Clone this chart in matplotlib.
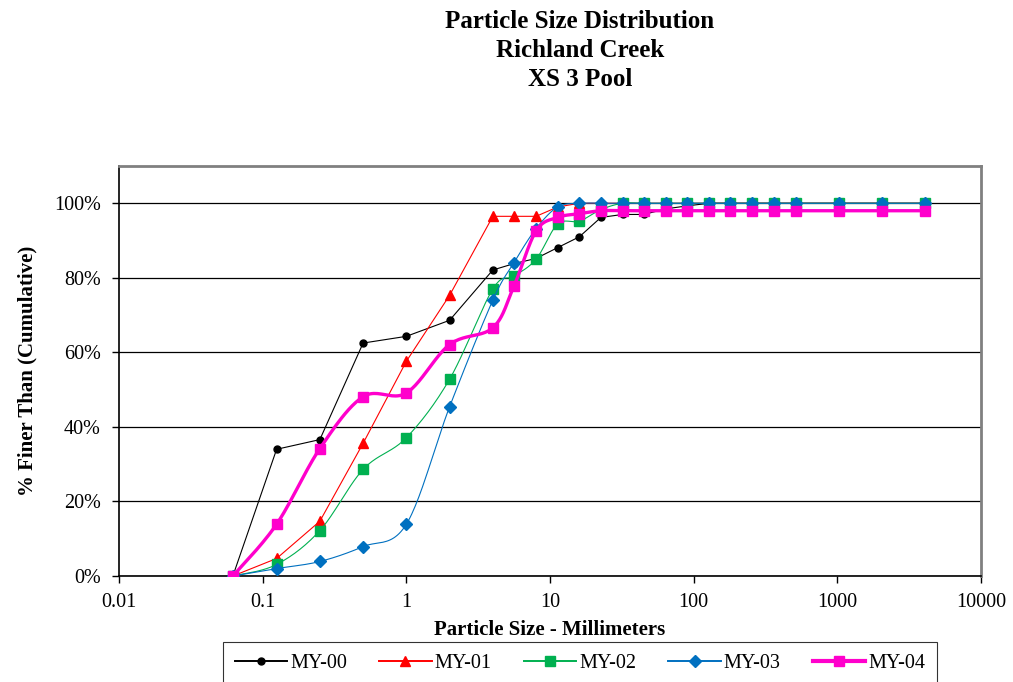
import numpy as np
import matplotlib
matplotlib.use("Agg")
import matplotlib.pyplot as plt
from matplotlib.lines import Line2D
from matplotlib.ticker import FixedLocator, FixedFormatter, FuncFormatter

plt.rcParams['font.family'] = ['Liberation Serif', 'DejaVu Serif']

# sieve sizes (mm)
sizes = [0.062, 0.125, 0.25, 0.5, 1, 2, 4, 5.6, 8, 11.3, 16, 22.6, 32, 45,
         64, 90, 128, 180, 256, 362, 512, 1024, 2048, 4096]

# cumulative % finer
my00 = [0, 34, 36.6, 62.5, 64.3, 68.6, 82.1, 83.8, 85.2, 88.1, 91, 96.2, 97, 97,
        98.5, 99.3, 100, 100, 100, 100, 100, 100, 100, 100]
my01 = [0, 4.7, 14.7, 35.6, 57.6, 75.3, 96.5, 96.5, 96.5, 99, 100, 100, 100, 100,
        100, 100, 100, 100, 100, 100, 100, 100, 100, 100]
my02 = [0, 3.1, 12.2, 28.6, 37.1, 52.8, 77, 80.4, 85, 94.4, 95.2, 98.3, 100, 100,
        100, 100, 100, 100, 100, 100, 100, 100, 100, 100]
my03 = [0, 2, 3.9, 7.9, 13.9, 45.4, 74, 84, 93.2, 99, 100, 100, 100, 100,
        100, 100, 100, 100, 100, 100, 100, 100, 100, 100]
my04 = [0, 13.9, 34.2, 48.1, 49.1, 62.1, 66.6, 77.7, 92.6, 96.2, 97.2, 98, 98, 98,
        98, 98, 98, 98, 98, 98, 98, 98, 98, 98]

series_names = ["MY-00", "MY-01", "MY-02", "MY-03", "MY-04"]
x_ticks = [0.01, 0.1, 1, 10, 100, 1000, 10000]
x_tick_labels = ["0.01", "0.1", "1", "10", "100", "1000", "10000"]


def smooth(x, y, n=25):
    # catmull-rom style bezier through the points, in log-x space (like excel smoothed lines)
    P = np.column_stack([np.log10(x), np.asarray(y, float)])
    out = []
    t = np.linspace(0, 1, n)[:, None]
    for i in range(len(P) - 1):
        p0 = P[i - 1] if i > 0 else P[i]
        p1, p2 = P[i], P[i + 1]
        p3 = P[i + 2] if i + 2 < len(P) else P[i + 1]
        c1 = p1 + (p2 - p0) / 6
        c2 = p2 - (p3 - p1) / 6
        seg = (1 - t)**3 * p1 + 3 * (1 - t)**2 * t * c1 + 3 * (1 - t) * t**2 * c2 + t**3 * p2
        out.append(seg if i == 0 else seg[1:])
    out = np.vstack(out)
    return 10 ** out[:, 0], out[:, 1]


fig = plt.figure(figsize=(10.13, 6.82), dpi=100)
ax = fig.add_axes([0.1175, 0.1554, 0.8509, 0.6012])

styles = [
    dict(color="black", marker="o", ms=5, lw=0.8, smooth=False),
    dict(color="#FF0000", marker="^", ms=7, lw=0.8, smooth=False),
    dict(color="#00B050", marker="s", ms=6.5, lw=0.8, smooth=True),
    dict(color="#0070C0", marker="D", ms=6.5, lw=0.8, smooth=True),
    dict(color="#FF00CC", marker="s", ms=7.5, lw=2.4, smooth=True),
]

handles = []
for name, vals, st in zip(series_names, [my00, my01, my02, my03, my04], styles):
    if st["smooth"]:
        sx, sy = smooth(sizes, vals)
    else:
        sx, sy = sizes, vals
    ax.plot(sx, sy, color=st["color"], lw=st["lw"], zorder=3)
    ax.plot(sizes, vals, ls="none", marker=st["marker"], ms=st["ms"],
            color=st["color"], mec=st["color"], zorder=3)
    handles.append(Line2D([], [], color=st["color"], lw=st["lw"] + 0.6, alpha=1,
                          marker=st["marker"], ms=st["ms"], label=name))

ax.set_xscale("log")
ax.set_xlim(0.01, 10000)
ax.set_ylim(0, 110)
ax.xaxis.set_major_locator(FixedLocator(x_ticks))
ax.xaxis.set_major_formatter(FixedFormatter(x_tick_labels))
ax.xaxis.set_minor_locator(FixedLocator([]))
ax.set_yticks([0, 20, 40, 60, 80, 100])
ax.yaxis.set_major_formatter(FuncFormatter(lambda v, p: "%d%%" % v))
ax.tick_params(labelsize=14.5, direction="out", length=5, width=1, colors="black")
ax.tick_params(axis="x", pad=7)
ax.tick_params(axis="y", pad=8)
ax.grid(axis="y", color="black", lw=0.9)
ax.set_axisbelow(True)

for side in ["top", "right"]:
    ax.spines[side].set_color("#808080")
    ax.spines[side].set_linewidth(2)
for side in ["left", "bottom"]:
    ax.spines[side].set_color("black")
    ax.spines[side].set_linewidth(1.2)

ax.set_xlabel("Particle Size - Millimeters", fontsize=15, fontweight="bold", labelpad=6)
ax.set_ylabel("% Finer Than (Cumulative)", fontsize=15, fontweight="bold", labelpad=12)

fig.text(0.5725, 0.985, "Particle Size Distribution\nRichland Creek\nXS 3 Pool",
         ha="center", va="top", fontsize=18, fontweight="bold", linespacing=1.33)

leg = fig.legend(handles=handles, loc="upper center", ncol=5,
                 bbox_to_anchor=(0.5725, 1 - 642 / 682), borderaxespad=0,
                 fontsize=14.5, frameon=True, fancybox=False, edgecolor="black",
                 handlelength=2.6, handletextpad=0.15, columnspacing=1.6,
                 borderpad=0.6)
leg.get_frame().set_linewidth(0.8)

fig.savefig("out.png", dpi=100)
